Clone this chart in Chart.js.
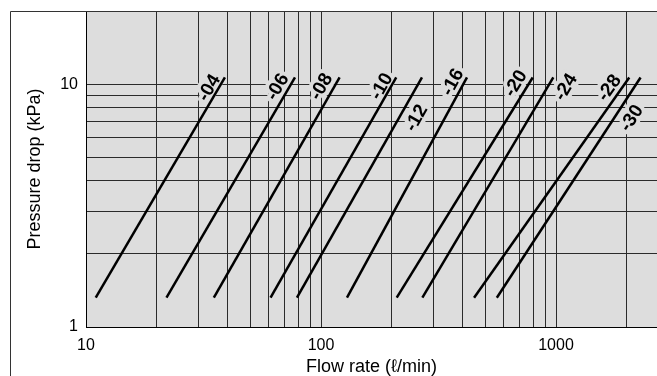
<!DOCTYPE html>
<html>
<head>
<meta charset="utf-8">
<script src="https://cdn.jsdelivr.net/npm/chart.js@4.4.0/dist/chart.umd.min.js"></script>
<style>
  body { margin: 0; background: #fff; }
  canvas { display: block; }
</style>
</head>
<body>
<canvas id="flowChart" width="657" height="376"></canvas>
<script>
// Values (log-log, one straight line per size)
const sizeNames = ["-04", "-06", "-08", "-10", "-12", "-16", "-20", "-24", "-28", "-30"];
const flowLow = [11, 22, 35, 61, 79, 129, 210, 270, 448, 560];            // ℓ/min at low end
const flowHigh = [39, 77.5, 120, 209, 269, 418, 796, 974, 2050, 2290];    // ℓ/min at high end
const dropLow = [1.32, 1.32, 1.32, 1.32, 1.32, 1.32, 1.32, 1.32, 1.32, 1.32];           // kPa
const dropHigh = [10.65, 10.65, 10.65, 10.65, 10.65, 10.65, 10.65, 10.65, 10.65, 10.65]; // kPa

// Grid lines and the ticks that carry a label
const xTicks = [10, 20, 30, 40, 50, 60, 70, 80, 90, 100, 200, 300, 400, 500, 600, 700, 800, 900, 1000, 2000];
const yTicks = [1, 2, 3, 4, 5, 6, 7, 8, 9, 10, 20];
const xTickLabels = [10, 100, 1000];
const yTickLabels = [1, 10];

const FONT = '"Liberation Sans", Arial, Helvetica, sans-serif';
const GRID = "#2a2a2a";
const PLOT_BG = "#dddddd";

// Where each size label sits: [distance back from the top end, distance to the side] in px
const labelPlacement = [[-17, 9], [-17, 11], [-17, 12], [-15, 9], [-38, -14.5], [-11, 11], [-14, 12], [-2, -15], [-20, 11], [-39, -14]];

// Grey plot background, white outside
const backgroundPlugin = {
  id: "plotBackground",
  beforeDraw(chart) {
    const { ctx, chartArea } = chart;
    ctx.save();
    ctx.fillStyle = "#fff";
    ctx.fillRect(0, 0, chart.width, chart.height);
    ctx.fillStyle = PLOT_BG;
    ctx.fillRect(chartArea.left, chartArea.top, chartArea.right - chartArea.left, chartArea.bottom - chartArea.top);
    ctx.restore();
  },
  afterDraw(chart) {
    // outer frame of the figure (left and top edges are the only ones in view)
    const ctx = chart.ctx;
    ctx.save();
    ctx.strokeStyle = "#333";
    ctx.lineWidth = 1;
    ctx.beginPath();
    ctx.moveTo(10.5, chart.height);
    ctx.lineTo(10.5, 11.5);
    ctx.lineTo(chart.width, 11.5);
    ctx.stroke();
    ctx.restore();
  }
};

// Size names written along each line, with a halo that clears the grid
const sizeLabelPlugin = {
  id: "sizeLabels",
  beforeDatasetsDraw(chart, args, opts) {
    const ctx = chart.ctx;
    ctx.save();
    ctx.font = "bold 19px " + FONT;
    ctx.textAlign = "center";
    ctx.textBaseline = "middle";
    ctx.lineJoin = "round";
    chart.data.datasets.forEach((ds, i) => {
      const pts = chart.getDatasetMeta(i).data;
      const a = pts[0], b = pts[1];
      const len = Math.hypot(b.x - a.x, b.y - a.y);
      const ux = (b.x - a.x) / len, uy = (b.y - a.y) / len;
      const [along, side] = opts.placement[i];
      const cx = b.x + ux * along + uy * side;
      const cy = b.y + uy * along - ux * side;
      ctx.save();
      ctx.translate(cx, cy);
      ctx.rotate(Math.atan2(uy, ux));
      ctx.strokeStyle = PLOT_BG;
      ctx.lineWidth = 8;
      ctx.strokeText(ds.label, 0, 1);
      ctx.fillStyle = "#000";
      ctx.fillText(ds.label, 0, 1);
      ctx.restore();
    });
    ctx.restore();
  }
};

const datasets = sizeNames.map((name, i) => ({
  label: name,
  data: [{ x: flowLow[i], y: dropLow[i] }, { x: flowHigh[i], y: dropHigh[i] }],
  showLine: true,
  borderColor: "#000",
  borderWidth: 2.5,
  pointRadius: 0,
  pointHoverRadius: 0,
  fill: false
}));

new Chart(document.getElementById("flowChart").getContext("2d"), {
  type: "scatter",
  data: { datasets },
  plugins: [backgroundPlugin, sizeLabelPlugin],
  options: {
    responsive: false,
    animation: false,
    events: [],
    layout: { padding: { left: 10, top: 11, right: 0, bottom: 0 } },
    plugins: {
      legend: { display: false },
      tooltip: { enabled: false },
      sizeLabels: { placement: labelPlacement }
    },
    scales: {
      x: {
        type: "logarithmic",
        min: 10,
        max: 2690,
        afterBuildTicks: (scale) => { scale.ticks = xTicks.map((v) => ({ value: v })); },
        afterFit: (scale) => {
          scale.height = 49;
          scale.paddingLeft = 0;
          scale.paddingRight = 0;
        },
        ticks: {
          autoSkip: false,
          maxRotation: 0,
          padding: 9,
          color: "#000",
          font: { family: FONT, size: 16 },
          callback: (v) => (xTickLabels.includes(v) ? String(v) : "")
        },
        grid: { color: GRID, lineWidth: 1, drawTicks: false },
        border: { color: "#000", width: 1 },
        title: {
          display: true,
          text: "Flow rate (ℓ/min)",
          color: "#000",
          font: { family: FONT, size: 18, lineHeight: 1 },
          padding: 0
        }
      },
      y: {
        type: "logarithmic",
        min: 1,
        max: 20,
        afterBuildTicks: (scale) => { scale.ticks = yTicks.map((v) => ({ value: v })); },
        afterFit: (scale) => {
          scale.width = 76;
          scale.paddingTop = 0;
          scale.paddingBottom = 0;
        },
        ticks: {
          autoSkip: false,
          padding: 8,
          color: "#000",
          font: { family: FONT, size: 16 },
          callback: (v) => (yTickLabels.includes(v) ? String(v) : "")
        },
        grid: { color: GRID, lineWidth: 1, drawTicks: false },
        border: { color: "#000", width: 1 },
        title: {
          display: true,
          text: "Pressure drop (kPa)",
          color: "#000",
          font: { family: FONT, size: 18, lineHeight: 1 },
          padding: { top: 16, bottom: 0 }
        }
      }
    }
  }
});
</script>
</body>
</html>
